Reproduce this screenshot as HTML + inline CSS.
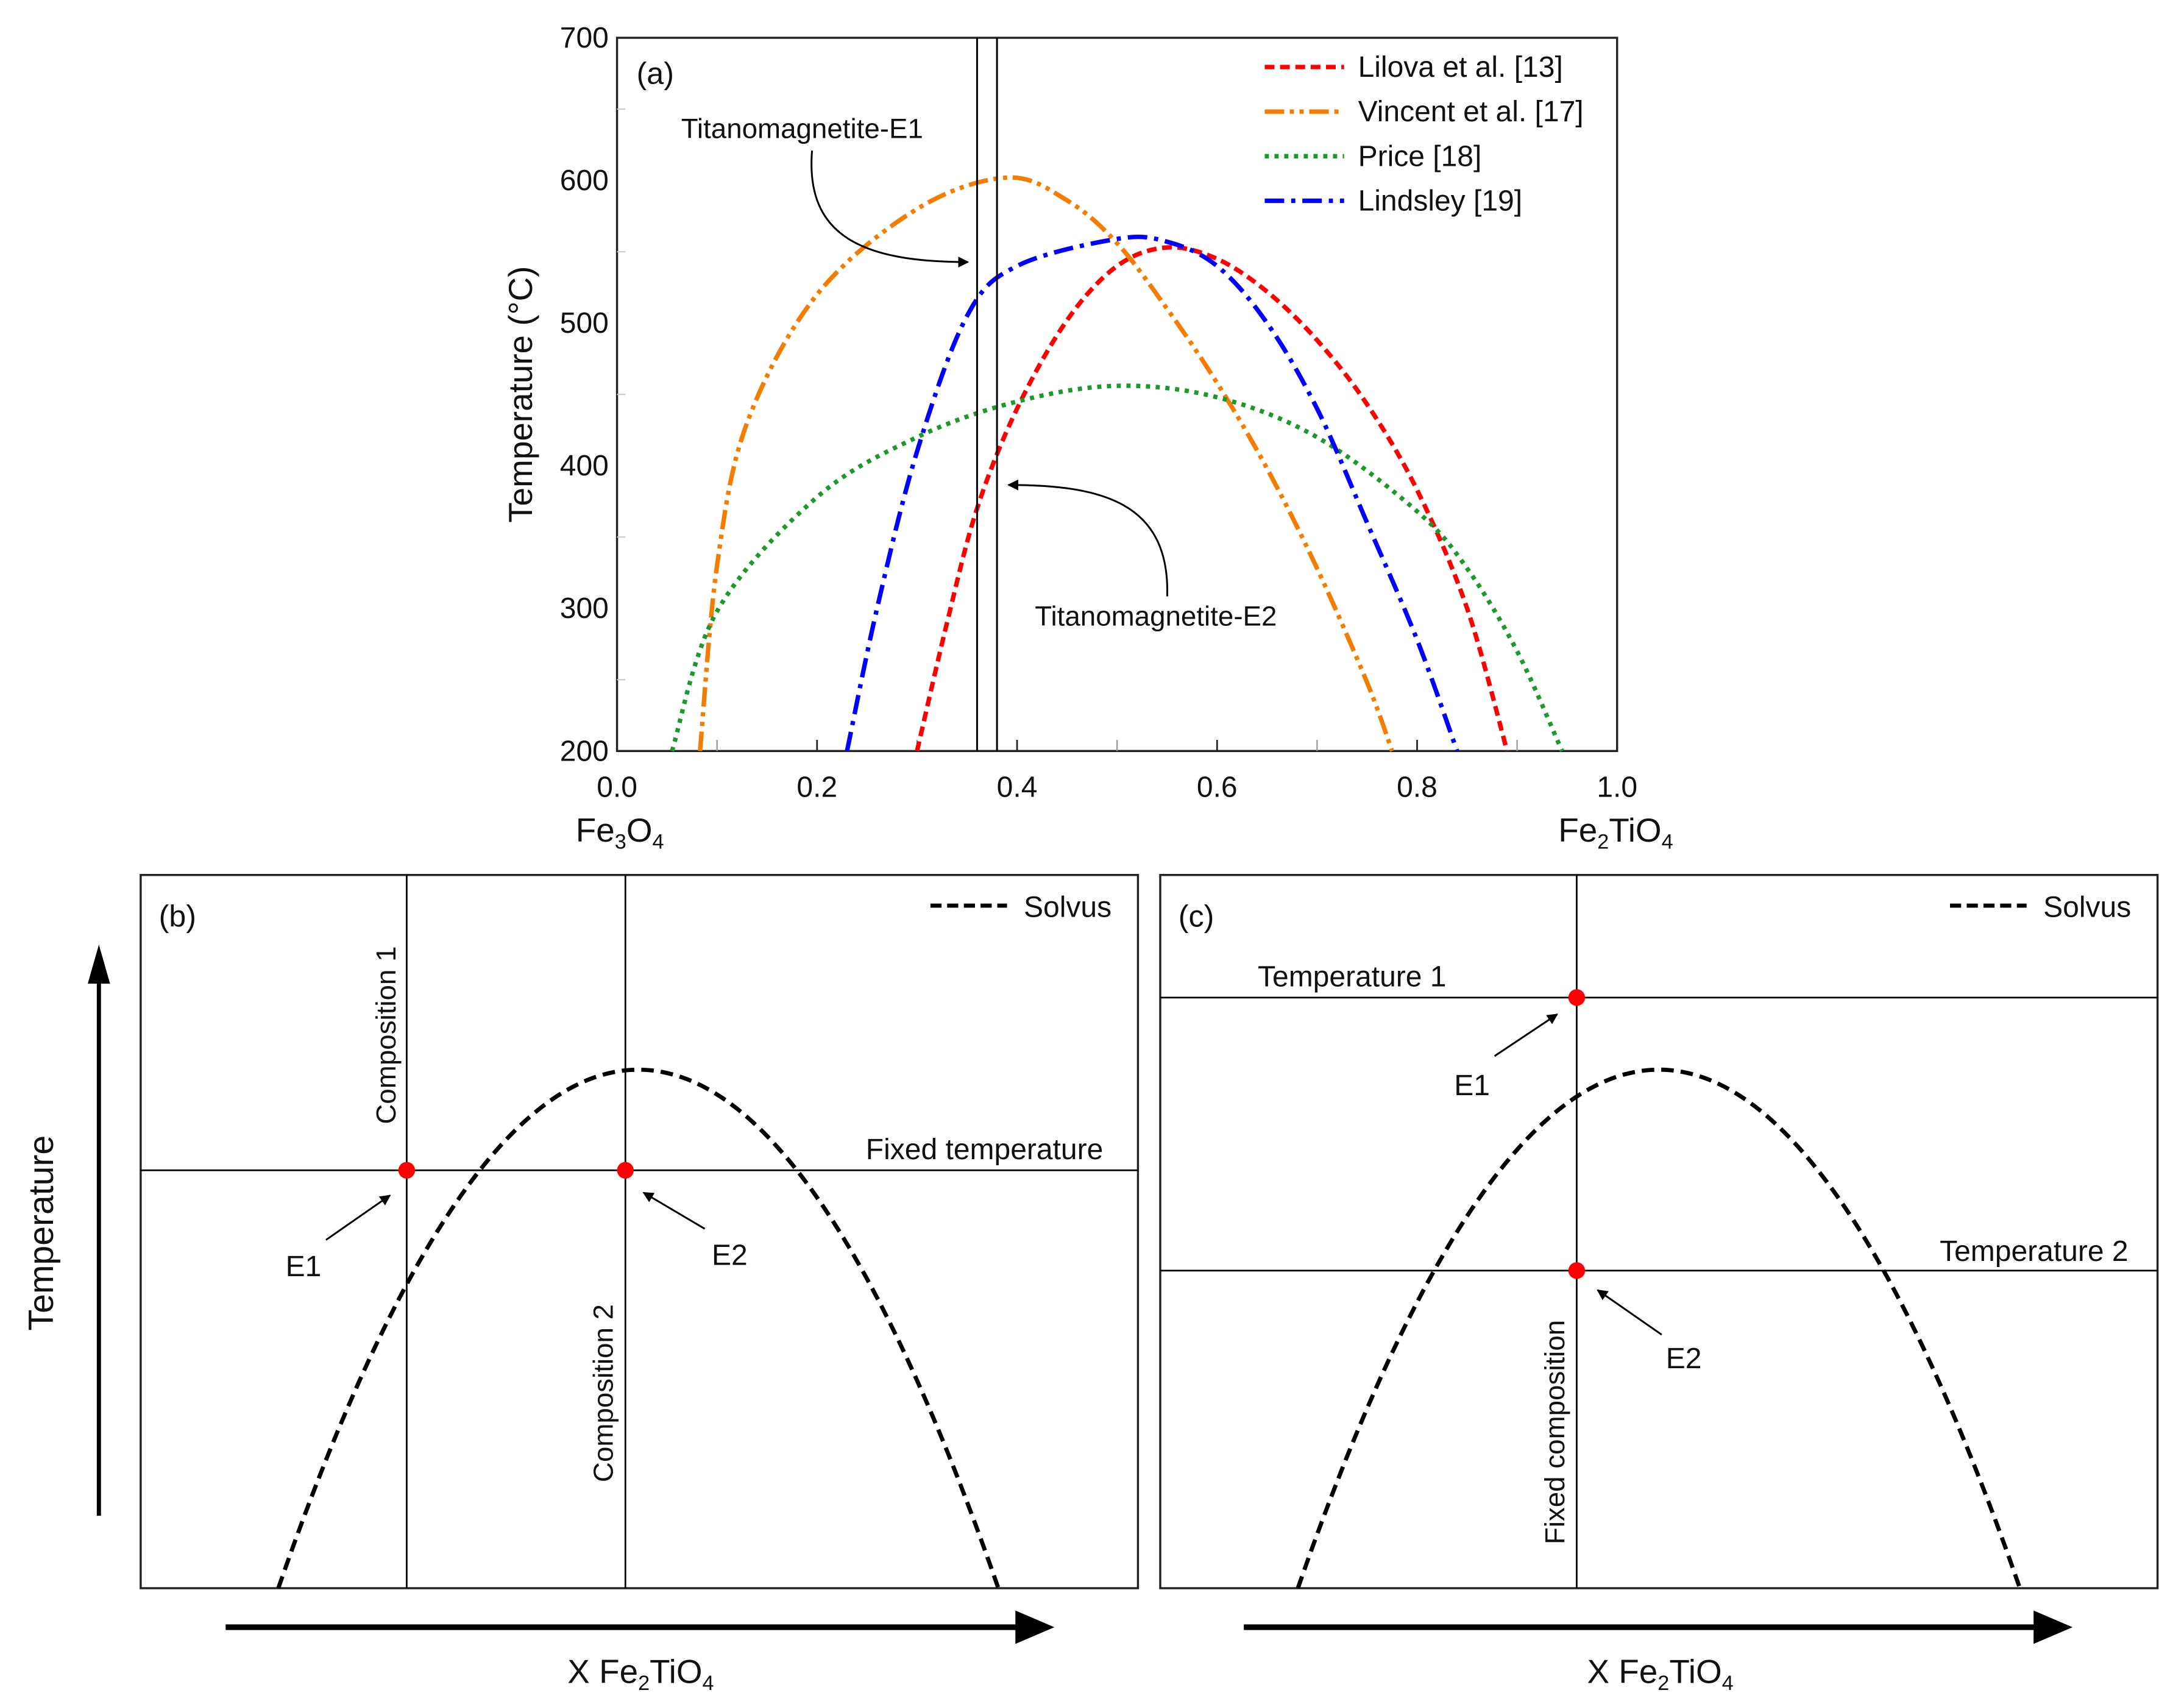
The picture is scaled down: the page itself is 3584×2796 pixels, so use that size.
<!DOCTYPE html>
<html><head><meta charset="utf-8"><style>
html,body{margin:0;padding:0;background:#fff}
svg{display:block}
text{font-family:"Liberation Sans Narrow","Liberation Sans",sans-serif;fill:#111}
.w{font-family:"Liberation Sans",sans-serif}
</style></head><body>
<svg id="fig" width="3584" height="2796" viewBox="0 0 1568 1223" xmlns="http://www.w3.org/2000/svg">
<defs>
<marker id="ah" viewBox="0 0 10 10" refX="9" refY="5" markerWidth="6" markerHeight="6" orient="auto"><path d="M0,0 L10,5 L0,10 z" fill="#000"/></marker>
</defs>
<g id="pa">
<rect x="443" y="27" width="718" height="512" fill="none" stroke="#222" stroke-width="1.5"/>
<g id="axA"></g>
<g id="curvesA"></g>
<line x1="701.5" y1="27" x2="701.5" y2="539" stroke="#000" stroke-width="1.3"/>
<line x1="715.8" y1="27" x2="715.8" y2="539" stroke="#000" stroke-width="1.3"/>
<text x="457" y="60" font-size="22" class="w">(a)</text>
<text x="489" y="99" font-size="20">Titanomagnetite-E1</text>
<path d="M583,108 C578,170 620,188 695,188" fill="none" stroke="#000" stroke-width="1.3" marker-end="url(#ah)"/>
<text x="743" y="449" font-size="20">Titanomagnetite-E2</text>
<path d="M838,428 C840,360 790,348 724,348" fill="none" stroke="#000" stroke-width="1.3" marker-end="url(#ah)"/>
<text transform="translate(382,283) rotate(-90)" text-anchor="middle" font-size="24" class="w">Temperature (°C)</text>
<text x="445" y="604" text-anchor="middle" font-size="24" class="w">Fe<tspan font-size="15" dy="5">3</tspan><tspan dy="-5">O</tspan><tspan font-size="15" dy="5">4</tspan></text>
<text x="1160" y="604" text-anchor="middle" font-size="24" class="w">Fe<tspan font-size="15" dy="5">2</tspan><tspan dy="-5">TiO</tspan><tspan font-size="15" dy="5">4</tspan></text>
<g id="legA"></g>
</g>

<g>
<rect x="101" y="628" width="716" height="512" fill="none" stroke="#222" stroke-width="1.5"/>
<line x1="292" y1="628" x2="292" y2="1140" stroke="#000" stroke-width="1.2"/>
<line x1="449" y1="628" x2="449" y2="1140" stroke="#000" stroke-width="1.2"/>
<line x1="101" y1="840" x2="817" y2="840" stroke="#000" stroke-width="1.2"/>
<path id="solB" fill="none" stroke="#000" stroke-width="3" stroke-dasharray="9,5"/>
<circle cx="292" cy="840" r="6" fill="#f00"/>
<circle cx="449" cy="840" r="6" fill="#f00"/>
<text x="114" y="665" font-size="22" class="w">(b)</text>
<line x1="668" y1="650" x2="723" y2="650" stroke="#000" stroke-width="3" stroke-dasharray="8,4"/>
<text x="735" y="658" font-size="21">Solvus</text>
<text transform="translate(284,743) rotate(-90)" text-anchor="middle" font-size="20" class="w">Composition 1</text>
<text transform="translate(440,1000) rotate(-90)" text-anchor="middle" font-size="20" class="w">Composition 2</text>
<text x="792" y="832" text-anchor="end" font-size="21">Fixed temperature</text>
<text x="205" y="916" font-size="21">E1</text>
<line x1="234" y1="890" x2="280" y2="858" stroke="#000" stroke-width="1.3" marker-end="url(#ah)"/>
<text x="511" y="908" font-size="21">E2</text>
<line x1="506" y1="882" x2="462" y2="856" stroke="#000" stroke-width="1.3" marker-end="url(#ah)"/>
<line x1="71" y1="1088" x2="71" y2="690" stroke="#000" stroke-width="3"/>
<path d="M71,678 L63,706 L79,706 z" fill="#000"/>
<text transform="translate(38,885) rotate(-90)" text-anchor="middle" font-size="25" class="w">Temperature</text>
<line x1="162" y1="1168" x2="735" y2="1168" stroke="#000" stroke-width="4"/>
<path d="M757,1168 L729,1156 L729,1180 z" fill="#000"/>
<text x="460" y="1208" text-anchor="middle" font-size="24" class="w">X Fe<tspan font-size="15" dy="5">2</tspan><tspan dy="-5">TiO</tspan><tspan font-size="15" dy="5">4</tspan></text>
</g>

<g>
<rect x="833" y="628" width="716" height="512" fill="none" stroke="#222" stroke-width="1.5"/>
<line x1="1132" y1="628" x2="1132" y2="1140" stroke="#000" stroke-width="1.2"/>
<line x1="833" y1="716" x2="1549" y2="716" stroke="#000" stroke-width="1.2"/>
<line x1="833" y1="912" x2="1549" y2="912" stroke="#000" stroke-width="1.2"/>
<path id="solC" fill="none" stroke="#000" stroke-width="3" stroke-dasharray="9,5"/>
<circle cx="1132" cy="716" r="6" fill="#f00"/>
<circle cx="1132" cy="912" r="6" fill="#f00"/>
<text x="846" y="665" font-size="22" class="w">(c)</text>
<line x1="1400" y1="650" x2="1455" y2="650" stroke="#000" stroke-width="3" stroke-dasharray="8,4"/>
<text x="1467" y="658" font-size="21">Solvus</text>
<text x="903" y="708" font-size="21">Temperature 1</text>
<text x="1528" y="905" text-anchor="end" font-size="21">Temperature 2</text>
<text x="1044" y="786" font-size="21">E1</text>
<line x1="1073" y1="758" x2="1118" y2="728" stroke="#000" stroke-width="1.3" marker-end="url(#ah)"/>
<text x="1196" y="982" font-size="21">E2</text>
<line x1="1193" y1="958" x2="1147" y2="926" stroke="#000" stroke-width="1.3" marker-end="url(#ah)"/>
<text transform="translate(1123,1028) rotate(-90)" text-anchor="middle" font-size="20" class="w">Fixed composition</text>
<line x1="893" y1="1168" x2="1466" y2="1168" stroke="#000" stroke-width="4"/>
<path d="M1488,1168 L1460,1156 L1460,1180 z" fill="#000"/>
<text x="1192" y="1208" text-anchor="middle" font-size="24" class="w">X Fe<tspan font-size="15" dy="5">2</tspan><tspan dy="-5">TiO</tspan><tspan font-size="15" dy="5">4</tspan></text>
</g>
</svg>
<script>
const xTicks=[0,0.2,0.4,0.6,0.8,1.0];
const xTickLabels=["0.0","0.2","0.4","0.6","0.8","1.0"];
const yTicks=[200,300,400,500,600,700];
const seriesNames=["Lilova et al. [13]","Vincent et al. [17]","Price [18]","Lindsley [19]"];
const lilovaX=[0.30,0.33,0.36,0.40,0.45,0.50,0.55,0.60,0.65,0.70,0.75,0.80,0.85,0.89];
const lilovaT=[200,290,370,440,502,540,553,545,522,488,443,383,300,200];
const vincentX=[0.083,0.10,0.13,0.20,0.30,0.39,0.45,0.50,0.55,0.60,0.65,0.70,0.75,0.775];
const vincentT=[200,330,430,520,580,602,586,556,510,458,398,328,248,200];
const priceX=[0.055,0.10,0.20,0.30,0.40,0.50,0.60,0.70,0.80,0.85,0.90,0.945];
const priceT=[200,298,378,420,445,456,448,420,368,328,270,200];
const lindsleyX=[0.23,0.26,0.30,0.35,0.40,0.50,0.55,0.60,0.65,0.70,0.75,0.80,0.84];
const lindsleyT=[200,300,410,505,540,559,557,540,500,440,360,278,200];
const solvusPeakX=[0.499,0.5];
const solvusPeakT=[0.727,0.727];
const solvusHalfWidth=[0.361,0.362];
const NS="http://www.w3.org/2000/svg";
const X0=443,X1=1161,Y0=539,Y1=27;
const sx=v=>X0+v*(X1-X0);
const sy=t=>Y0-(t-200)/500*(Y0-Y1);
function mk(tag,attrs,parent){const e=document.createElementNS(NS,tag);for(const k in attrs)e.setAttribute(k,attrs[k]);parent.appendChild(e);return e;}
const ax=document.getElementById('axA');
xTicks.forEach((v,i)=>{
  const t=mk('line',{x1:sx(v),y1:Y0,x2:sx(v),y2:Y0-(i==0||i==5?0:8),stroke:'#222','stroke-width':1.2},ax);
  
  
  const l=mk('text',{x:sx(v),y:572,'text-anchor':'middle','font-size':21},ax);l.textContent=xTickLabels[i];
  
  
  if(i<5){const m=mk('line',{x1:sx(v+0.1),y1:Y0,x2:sx(v+0.1),y2:Y0-8,stroke:'#999','stroke-width':1},ax);
  
  }
});
yTicks.forEach(v=>{
  const l=mk('text',{x:437,y:sy(v)+7,'text-anchor':'end','font-size':21},ax);l.textContent=v;
  
  
  if(v<700){const m=mk('line',{x1:X0,y1:sy(v+50),x2:X0+6,y2:sy(v+50),stroke:'#ccc','stroke-width':1},ax);
  
  }
});
function smooth(pts){let d='M'+pts[0][0]+','+pts[0][1];
  for(let i=0;i<pts.length-1;i++){const p0=pts[Math.max(0,i-1)],p1=pts[i],p2=pts[i+1],p3=pts[Math.min(pts.length-1,i+2)];
    d+=' C'+(p1[0]+(p2[0]-p0[0])/6)+','+(p1[1]+(p2[1]-p0[1])/6)+' '+(p2[0]-(p3[0]-p1[0])/6)+','+(p2[1]-(p3[1]-p1[1])/6)+' '+p2[0]+','+p2[1];}
  return d;}
const styles=[{c:'#f00',d:'7,4'},{c:'#f47c00',d:'14,4,3,4,3,4'},{c:'#1a9a2a',d:'3,4'},{c:'#00f',d:'14,5,3,5'}];
const sets=[[lilovaX,lilovaT],[vincentX,vincentT],[priceX,priceT],[lindsleyX,lindsleyT]];
const names=['lilova-curve','vincent-curve','price-curve','lindsley-curve'];
const cg=document.getElementById('curvesA');
const lg=document.getElementById('legA');
sets.forEach((s,i)=>{
  const pts=s[0].map((x,j)=>[sx(x),sy(s[1][j])]);
  const p=mk('path',{d:smooth(pts),fill:'none',stroke:styles[i].c,'stroke-width':3.2,'stroke-dasharray':styles[i].d},cg);
  
  
  const y=48+i*32;
  const ll=mk('line',{x1:908,y1:y,x2:965,y2:y,stroke:styles[i].c,'stroke-width':3.2,'stroke-dasharray':styles[i].d},lg);
  
  
  const lt=mk('text',{x:975,y:y+7,'font-size':21},lg);lt.textContent=seriesNames[i];
  
  
});
function solvus(id,bx,i){
  const L=bx,W=716,T=628,H=512;let pts=[];
  for(let k=0;k<=60;k++){const u=-1+k/30;const x=solvusPeakX[i]+u*solvusHalfWidth[i];
    const h=solvusPeakT[i]*(1-u*u);pts.push([L+x*W,T+H-h*H]);}
  document.getElementById(id).setAttribute('d',smooth(pts));
}
solvus('solB',101,0);
solvus('solC',833,1);
</script>
</body></html>
